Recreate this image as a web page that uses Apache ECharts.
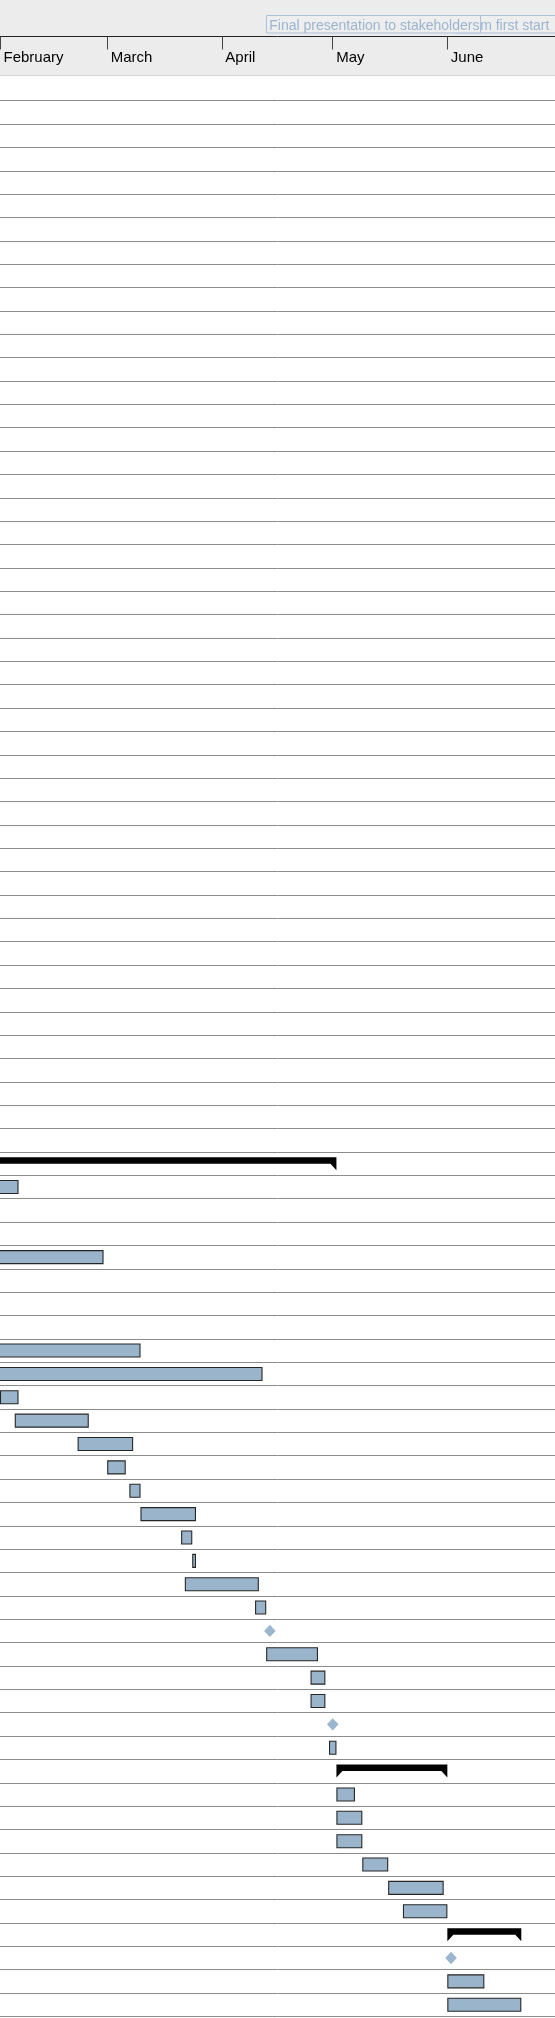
<!DOCTYPE html>
<html><head><meta charset="utf-8">
<script src="https://cdn.jsdelivr.net/npm/echarts@6/dist/echarts.min.js"></script>
<style>html,body{margin:0;padding:0;background:#fff;}#chart{width:555px;height:2018px;}</style>
</head><body><div id="chart"></div>
<script>
// ---- data ----
const rowCount = 83;
const rowIds = Array.from({length: rowCount}, (_, i) => 'Row ' + (i + 1));

const taskRows   = [47, 50, 54, 55, 56, 57, 58, 59, 60, 61, 62, 63, 64, 65, 67, 68, 69, 71, 73, 74, 75, 76, 77, 78, 81, 82];
const taskStarts = ['2016-01-25','2016-01-11','2016-01-18','2016-01-04','2016-02-01','2016-02-05','2016-02-22','2016-03-01','2016-03-07','2016-03-10','2016-03-21','2016-03-24','2016-03-22','2016-04-10','2016-04-13','2016-04-25','2016-04-25','2016-04-30','2016-05-02','2016-05-02','2016-05-02','2016-05-09','2016-05-16','2016-05-20','2016-06-01','2016-06-01'];
const taskEnds   = ['2016-02-06','2016-02-29','2016-03-10','2016-04-12','2016-02-06','2016-02-25','2016-03-08','2016-03-06','2016-03-10','2016-03-25','2016-03-24','2016-03-25','2016-04-11','2016-04-13','2016-04-27','2016-04-29','2016-04-29','2016-05-02','2016-05-07','2016-05-09','2016-05-09','2016-05-16','2016-05-31','2016-06-01','2016-06-11','2016-06-21'];

const summaryRows   = [46, 72, 79];
const summaryStarts = ['2016-01-04','2016-05-02','2016-06-01'];
const summaryEnds   = ['2016-05-02','2016-06-01','2016-06-21'];

const milestoneRows  = [66, 70, 80];
const milestoneDates = ['2016-04-14','2016-05-01','2016-06-02'];

const monthTicks  = ['2016-02-01','2016-03-01','2016-04-01','2016-05-01','2016-06-01'];
const monthLabels = ['February','March','April','May','June'];

const pinnedLabels = ['Team first start', 'Final presentation to stakeholders'];

// ---- helpers ----
const toTime = s => { const p = s.split('-').map(Number); return Date.UTC(p[0], p[1] - 1, p[2]); };
const DAY = 864e5;
const xMin = toTime('2016-02-01');
const xMax = xMin + 150.12 * DAY;
const monthTickTimes = monthTicks.map(toTime);

const FONT = '"Liberation Sans", Arial, Helvetica, sans-serif';
const BAR_FILL = '#9ab4cb';

const chart = echarts.init(document.getElementById('chart'), null, {renderer: 'canvas'});

const option = {
  animation: false,
  backgroundColor: '#ffffff',
  grid: { left: 0, right: 0, top: 77.3, bottom: 1.6, containLabel: false, outerBoundsMode: 'none' },
  xAxis: {
    type: 'value',
    position: 'top',
    offset: 40.8,
    min: xMin,
    max: xMax,
    z: 10,
    axisLine: { show: true, lineStyle: { color: '#222', width: 1 } },
    axisTick: { show: true, inside: true, length: 13, customValues: monthTickTimes, lineStyle: { color: '#444', width: 1 } },
    axisLabel: {
      show: true, inside: true, margin: 14, customValues: monthTickTimes,
      showMinLabel: true, showMaxLabel: true, hideOverlap: false,
      align: 'left', padding: [0, 0, 0, 3.5],
      color: '#000', fontSize: 15, fontFamily: FONT,
      formatter: v => { const i = monthTickTimes.indexOf(+v); return i >= 0 ? monthLabels[i] : ''; }
    },
    splitLine: { show: false },
    minorTick: { show: false }
  },
  yAxis: {
    type: 'category',
    data: rowIds,
    inverse: true,
    axisLine: { show: false },
    axisTick: { show: false },
    axisLabel: { show: false },
    splitLine: { show: true, lineStyle: { color: '#8c8c8c', width: 1 } }
  },
  graphic: [
    { type: 'rect', z: 1, shape: { x: 0, y: 0, width: 555, height: 75 }, style: { fill: '#ececec' } },
    { type: 'rect', z: 1, shape: { x: 0, y: 75, width: 555, height: 1 }, style: { fill: '#d6d6d6' } },
    { type: 'rect', z: 1, shape: { x: 0, y: 76, width: 555, height: 2.6 }, style: { fill: '#ffffff' } },
    { type: 'rect', z: 6, shape: { x: 454.5, y: 15.5, width: 120, height: 17.5 }, style: { fill: '#eeeeee', stroke: '#a9c1da', lineWidth: 1 } },
    { type: 'text', z: 6, x: 457.6, y: 26.3, style: { text: pinnedLabels[0], fill: '#9bb5d0', font: '14px ' + FONT, align: 'left', verticalAlign: 'middle', textAlign: 'left', textVerticalAlign: 'middle' } },
    { type: 'rect', z: 7, shape: { x: 266.5, y: 15.5, width: 214, height: 17.5 }, style: { fill: '#eeeeee', stroke: '#a9c1da', lineWidth: 1 } },
    { type: 'text', z: 7, x: 269.3, y: 26.3, style: { text: pinnedLabels[1], fill: '#9bb5d0', font: '14px ' + FONT, align: 'left', verticalAlign: 'middle', textAlign: 'left', textVerticalAlign: 'middle' } }
  ],
  series: [
    {
      type: 'custom', name: 'Tasks', clip: true,
      encode: { x: [1, 2], y: 0 },
      data: taskRows.map((r, i) => [r, toTime(taskStarts[i]), toTime(taskEnds[i])]),
      renderItem: (params, api) => {
        const row = api.value(0);
        const p0 = api.coord([api.value(1), row]);
        const p1 = api.coord([api.value(2), row]);
        const h = 14;
        return {
          type: 'rect',
          shape: { x: p0[0] + 0.5, y: p0[1] - h / 2 + 0.5, width: p1[0] - p0[0] - 1, height: h - 1 },
          style: { fill: BAR_FILL, stroke: '#262626', lineWidth: 1.1 }
        };
      }
    },
    {
      type: 'custom', name: 'Summaries', clip: true,
      encode: { x: [1, 2], y: 0 },
      data: summaryRows.map((r, i) => [r, toTime(summaryStarts[i]), toTime(summaryEnds[i])]),
      renderItem: (params, api) => {
        const row = api.value(0);
        const p0 = api.coord([api.value(1), row]);
        const p1 = api.coord([api.value(2), row]);
        const c = p0[1], x0 = p0[0], x1 = p1[0];
        return {
          type: 'polygon',
          shape: { points: [[x0, c - 6.5], [x1, c - 6.5], [x1, c + 6.5], [x1 - 6, c], [x0 + 6, c], [x0, c + 6.5]] },
          style: { fill: '#000' }
        };
      }
    },
    {
      type: 'custom', name: 'Milestones', clip: true,
      encode: { x: 1, y: 0 },
      data: milestoneRows.map((r, i) => [r, toTime(milestoneDates[i])]),
      renderItem: (params, api) => {
        const p = api.coord([api.value(1), api.value(0)]);
        const w = 5.8, h = 6.2;
        return {
          type: 'polygon',
          shape: { points: [[p[0], p[1] - h], [p[0] + w, p[1]], [p[0], p[1] + h], [p[0] - w, p[1]]] },
          style: { fill: '#9cb6cf' }
        };
      }
    }
  ]
};
chart.setOption(option);
</script>
</body></html>
